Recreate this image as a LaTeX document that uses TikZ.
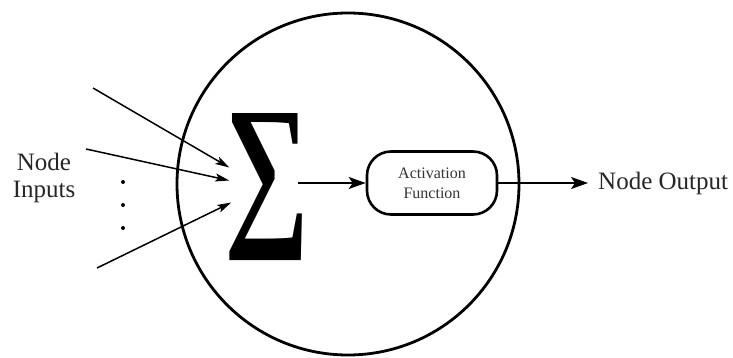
\documentclass[tikz,border=0pt]{standalone}
\usepackage{fontspec}
\setmainfont{Liberation Serif}
\usepackage{amsmath}
\usetikzlibrary{calc,
	positioning,
	shapes,
	arrows.meta}
\tikzset{
	flow/.style={line width=2pt,-{Stealth[length=17pt,width=12pt,inset=4pt]}},
	feed/.style={line width=1.5pt,-{Stealth[length=14pt,width=8pt,inset=3pt]}},
	label/.style={text=black!85,font=\fontsize{25}{27}\selectfont}
}

\begin{document}
\begin{tikzpicture}[x=1pt,y=-1pt]
	\useasboundingbox (0,0) rectangle (733,358);
	\node[draw,circle,line width=2.8pt,minimum size=342pt,inner sep=0pt] (neuron) at (348,184) {};
	\node[inner sep=0pt] (sum) at (267,187.5) {\resizebox{85pt}{111pt}{\textbf{∑}}};
	\node[draw,line width=2.6pt,rounded corners=24pt,minimum width=130pt,minimum height=63pt,
		align=center,text=black!80,font=\fontsize{16}{20}\selectfont] (act) at (432,183) {Activation\\Function};
	\node[label,anchor=west,inner sep=0pt] (out) at (598,183) {Node Output};
	\node[label,align=center] (inputs) at (44,178) {Node\\Inputs};
	\coordinate (in1) at (93,88);
	\coordinate (in2) at (86,149);
	\coordinate (in3) at (97,268);
	\coordinate (t1) at ($(sum.west)+(5,-20)$);
	\coordinate (t2) at ($(sum.west)+(5,-7)$);
	\coordinate (t3) at ($(sum.west)+(7,15)$);
	\foreach \idx in {1,2,3} {
		\draw[feed] (in\idx) -- (t\idx);
	}
	\foreach \y in {182,205,228} {
		\fill (123,\y) circle (2);
	}
	\draw[flow] ($(sum.east)+(-12,-4.5)$) -- (act.west);
	\draw[flow] (act.east) -- ($(out.west)+(-10,0)$);
\end{tikzpicture}
\end{document}
